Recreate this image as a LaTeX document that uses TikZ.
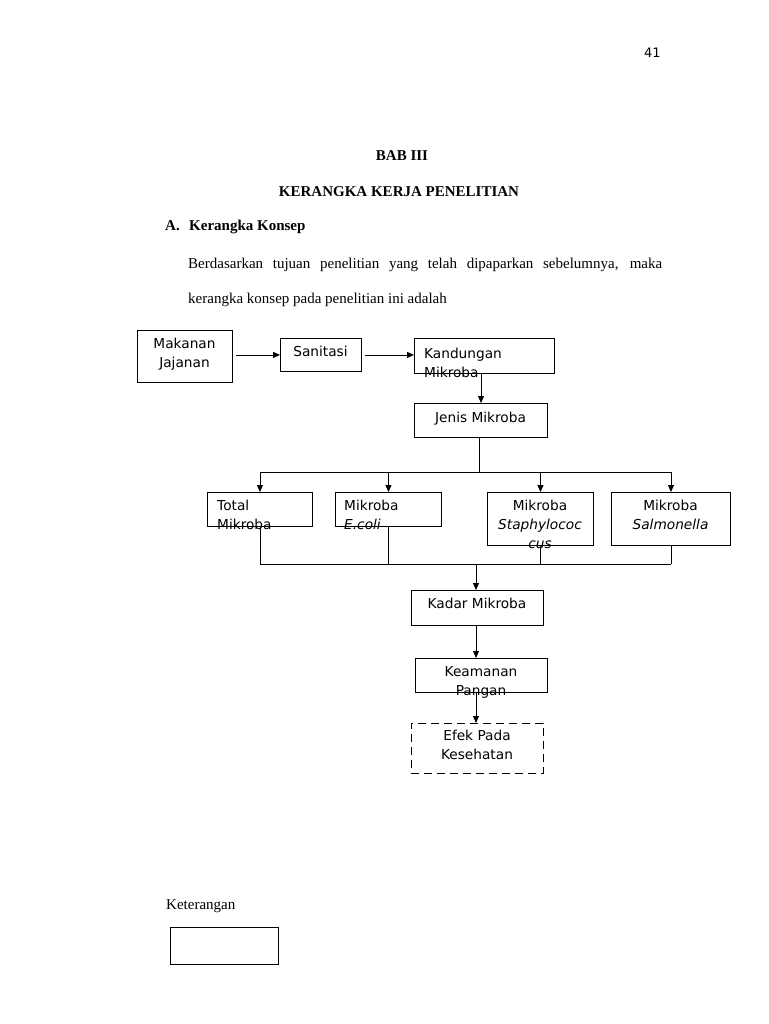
\documentclass[tikz,border=0pt]{standalone}
\usepackage{fontspec}
\setmainfont{Liberation Serif}
\newfontfamily\djv{DejaVu Sans}
\usetikzlibrary{arrows.meta}
\tikzset{
  bx/.style={draw, line width=0.9pt, inner sep=0pt, anchor=north west},
  dbx/.style={bx, dash pattern=on 8pt off 5pt},
  arr/.style={line width=0.9pt, -{Triangle[length=7pt,width=6pt]}},
  ln/.style={line width=0.9pt},
  dt/.style={font=\djv\fontsize{13.7}{19}\selectfont, inner sep=0pt, anchor=base},
  dtl/.style={dt, anchor=base west},
  st/.style={font=\fontsize{15}{18}\selectfont, inner sep=0pt, anchor=base west},
  stb/.style={font=\bfseries\fontsize{15}{18}\selectfont, inner sep=0pt, anchor=base},
}
\begin{document}
\begin{tikzpicture}[x=1pt,y=-1pt]
\useasboundingbox[fill=white] (0,0) rectangle (768,1024);

% page header texts
\node[font=\djv\fontsize{13}{16}\selectfont, inner sep=0pt, anchor=base west] (pg) at (644,58) {41};
\node[stb] (bab) at (402,161) {BAB III};
\node[stb] (judul) at (399,197) {KERANGKA KERJA PENELITIAN};
\node[stb, anchor=base west] (secA) at (165,231) {A.};
\node[stb, anchor=base west] (secT) at (189,231) {Kerangka Konsep};
\node[st] (par1) at (188,268) {\makebox[474pt][s]{Berdasarkan tujuan penelitian yang telah dipaparkan sebelumnya, maka}};
\node[st] (par2) at (188,303) {kerangka konsep pada penelitian ini adalah};

% boxes
\node[bx, minimum width=95pt, minimum height=52pt] (mj) at (137,330) {};
\node[bx, minimum width=81pt, minimum height=33pt] (san) at (280,338) {};
\node[bx, minimum width=140pt, minimum height=35pt] (kand) at (414,338) {};
\node[bx, minimum width=133pt, minimum height=34pt] (jen) at (414,403) {};
\node[bx, minimum width=105pt, minimum height=34pt] (tot) at (207,492) {};
\node[bx, minimum width=106pt, minimum height=34pt] (eco) at (335,492) {};
\node[bx, minimum width=106pt, minimum height=53pt] (sta) at (487,492) {};
\node[bx, minimum width=119pt, minimum height=53pt] (sal) at (611,492) {};
\node[bx, minimum width=132pt, minimum height=35pt] (kad) at (411,590) {};
\node[bx, minimum width=132pt, minimum height=34pt] (kea) at (415,658) {};
\node[dbx, minimum width=132pt, minimum height=50pt] (efe) at (411,723) {};

% box texts
\node[dt] (mj1) at (184.5,348) {Makanan};
\node[dt] (mj2) at (184.5,367) {Jajanan};
\node[dt] (san1) at (320.5,356) {Sanitasi};
\node[dtl] (kand1) at (424,358) {Kandungan};
\node[dtl] (kand2) at (424,377) {Mikroba};
\node[dt] (jen1) at (480.5,422) {Jenis Mikroba};
\node[dtl] (tot1) at (217,510) {Total};
\node[dtl] (tot2) at (217,529) {Mikroba};
\node[dtl] (eco1) at (344,510) {Mikroba};
\node[dtl] (eco2) at (344,529) {\itshape E.coli};
\node[dt] (sta1) at (540,510) {Mikroba};
\node[dt] (sta2) at (540,529) {\itshape Staphylococ};
\node[dt] (sta3) at (540,548) {\itshape cus};
\node[dt] (sal1) at (670.5,510) {Mikroba};
\node[dt] (sal2) at (670.5,529) {\itshape Salmonella};
\node[dt] (kad1) at (477,608) {Kadar Mikroba};
\node[dt] (kea1) at (481,676) {Keamanan};
\node[dt] (kea2) at (481,695) {Pangan};
\node[dt] (efe1) at (477,740) {Efek Pada};
\node[dt] (efe2) at (477,759) {Kesehatan};

% connectors
\draw[arr, shorten <=3pt] (mj.east |- san.west) -- (san.west);
\draw[arr, shorten <=3pt] (san.east) -- (kand.west |- san.east);
\coordinate (kx) at (481,0);
\draw[arr] (kand.south -| kx) -- (jen.north -| kx);

\coordinate (busT) at (479,472);
\draw[ln] (jen.south -| busT) -- (busT);
\draw[ln] (tot.north |- busT) -- (sal.north |- busT);
\draw[arr] (tot.north |- busT) -- (tot.north);
\draw[arr] (eco.north |- busT) -- (eco.north);
\draw[arr] (sta.north |- busT) -- (sta.north);
\draw[arr] (sal.north |- busT) -- (sal.north);

\coordinate (busB) at (476,564);
\draw[ln] (tot.south) -- (tot.south |- busB);
\draw[ln] (eco.south) -- (eco.south |- busB);
\draw[ln] (sta.south) -- (sta.south |- busB);
\draw[ln] (sal.south) -- (sal.south |- busB);
\draw[ln] (tot.south |- busB) -- (sal.south |- busB);
\draw[arr] (busB) -- (kad.north -| busB);
\draw[arr] (kad.south -| busB) -- (kea.north -| busB);
\draw[arr] (kea.south -| busB) -- (efe.north -| busB);

% legend
\node[st] (ket) at (166,909) {Keterangan};
\node[bx, minimum width=108pt, minimum height=37pt] (ketbox) at (170,927) {};
\end{tikzpicture}
\end{document}
